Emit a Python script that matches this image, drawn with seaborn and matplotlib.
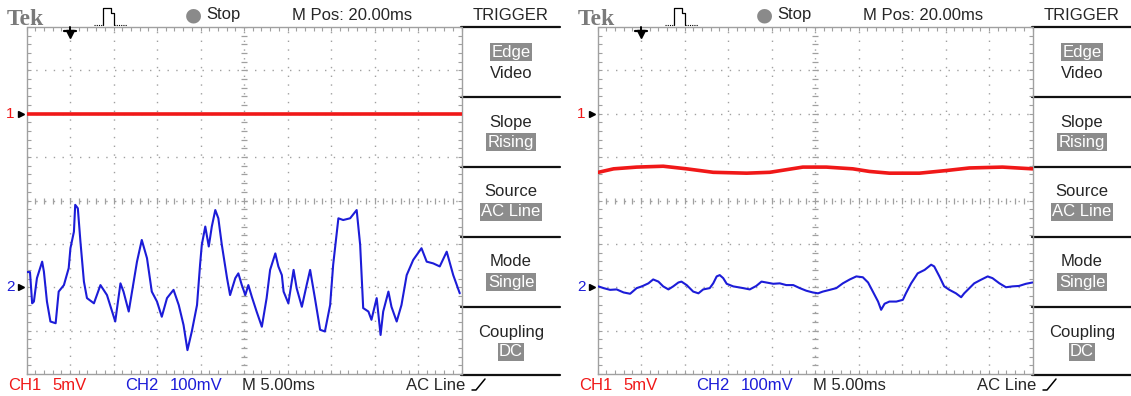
import numpy as np
import pandas as pd
import seaborn as sns
import matplotlib.pyplot as plt

# ---- trace data, in graticule divisions (time div, volts div from channel ground)
left_ch1_t = [0.0, 2.5, 5.0, 7.5, 10.0]
left_ch1_v = [0.0, 0.0, 0.0, 0.0, 0.0]

left_ch2_t = [0.015, 0.08, 0.13, 0.17, 0.24, 0.36, 0.40, 0.47, 0.55, 0.67, 0.74, 0.86, 0.97, 1.01,
              1.09, 1.12, 1.18, 1.24, 1.32, 1.39, 1.55, 1.70, 1.85, 2.04, 2.16, 2.23, 2.35, 2.54,
              2.65, 2.77, 2.88, 3.00, 3.11, 3.23, 3.38, 3.50, 3.61, 3.70, 3.80, 3.92, 3.99, 4.03,
              4.11, 4.19, 4.26, 4.34, 4.41, 4.49, 4.61, 4.68, 4.80, 4.87, 4.95, 5.03, 5.10, 5.18,
              5.29, 5.41, 5.52, 5.60, 5.72, 5.79, 5.87, 5.91, 6.02, 6.14, 6.21, 6.33, 6.44, 6.52,
              6.63, 6.75, 6.86, 6.98, 7.05, 7.17, 7.28, 7.44, 7.59, 7.67, 7.74, 7.86, 7.93, 8.05,
              8.14, 8.20, 8.32, 8.39, 8.51, 8.62, 8.74, 8.89, 9.08, 9.20, 9.35, 9.50, 9.66, 9.81, 9.96]
left_ch2_v = [0.35, 0.35, -0.37, -0.33, 0.21, 0.59, 0.36, -0.33, -0.79, -0.83, -0.10, 0.05, 0.44, 0.90,
              1.28, 1.90, 1.82, 1.05, 0.13, -0.25, -0.37, 0.05, -0.18, -0.79, 0.09, -0.10, -0.56, 0.59,
              1.09, 0.67, -0.10, -0.33, -0.68, -0.25, -0.06, -0.41, -0.87, -1.45, -1.02, -0.41, 0.52, 0.98,
              1.40, 0.94, 1.40, 1.78, 1.59, 0.98, 0.21, -0.18, 0.21, 0.32, 0.05, -0.18, 0.05, -0.22,
              -0.56, -0.91, -0.25, 0.40, 0.78, 0.48, 0.28, -0.10, -0.37, 0.40, -0.02, -0.45, 0.05, 0.40,
              -0.25, -0.98, -1.02, -0.41, 0.52, 1.59, 1.55, 1.59, 1.78, 0.98, -0.48, -0.56, -0.75, -0.25,
              -1.10, -0.56, -0.10, -0.45, -0.79, -0.41, 0.28, 0.63, 0.90, 0.59, 0.55, 0.48, 0.82, 0.28, -0.14]

right_ch1_t = [0.02, 0.37, 0.90, 1.51, 2.05, 2.66, 3.43, 3.96, 4.34, 4.72, 5.26, 5.87, 6.25, 6.71,
               7.40, 8.01, 8.55, 9.31, 10.0]
right_ch1_v = [-1.35, -1.27, -1.23, -1.21, -1.27, -1.35, -1.37, -1.35, -1.29, -1.23, -1.23, -1.27,
               -1.33, -1.37, -1.37, -1.31, -1.25, -1.23, -1.27]

right_ch2_t = [0.02, 0.14, 0.29, 0.44, 0.60, 0.75, 0.90, 1.02, 1.17, 1.28, 1.40, 1.51, 1.63, 1.74,
               1.86, 1.93, 2.05, 2.20, 2.32, 2.43, 2.58, 2.66, 2.74, 2.81, 2.89, 2.97, 3.12, 3.35,
               3.50, 3.65, 3.77, 3.88, 4.04, 4.19, 4.34, 4.50, 4.65, 4.80, 4.95, 5.07, 5.18, 5.34,
               5.49, 5.64, 5.80, 5.95, 6.10, 6.22, 6.33, 6.45, 6.52, 6.60, 6.71, 6.87, 7.02, 7.09,
               7.21, 7.36, 7.52, 7.67, 7.74, 7.86, 7.97, 8.09, 8.24, 8.36, 8.43, 8.55, 8.66, 8.81,
               8.97, 9.08, 9.24, 9.39, 9.54, 9.69, 9.85, 10.0]
right_ch2_v = [0.02, -0.02, -0.06, -0.05, -0.12, -0.15, -0.02, 0.02, 0.09, 0.18, 0.13, 0.02, -0.05, 0.02,
               0.11, 0.13, 0.05, -0.10, -0.14, -0.05, -0.02, 0.09, 0.25, 0.28, 0.21, 0.08, 0.02, -0.02,
               -0.05, 0.03, 0.13, 0.11, 0.08, 0.09, 0.05, 0.05, -0.02, -0.08, -0.12, -0.14, -0.10, -0.06,
               -0.02, 0.09, 0.18, 0.25, 0.23, 0.11, -0.10, -0.33, -0.52, -0.38, -0.33, -0.33, -0.29, -0.14,
               0.09, 0.32, 0.40, 0.52, 0.48, 0.25, 0.02, -0.06, -0.14, -0.23, -0.14, -0.02, 0.09, 0.17,
               0.25, 0.21, 0.09, 0.00, 0.02, 0.03, 0.08, 0.11]

# ---- labels
menu_titles = ["Edge", "Slope", "Source", "Mode", "Coupling"]
menu_values = ["Video", "Rising", "AC Line", "Single", "DC"]
ch1_label, ch1_scale = "CH1", "5mV"
ch2_label, ch2_scale = "CH2", "100mV"
timebase = "M 5.00ms"
mpos = "M Pos: 20.00ms"

RED = "#f01818"
BLUE = "#1c1cd8"
GRID = "#a0a0a0"
HILITE = "#8c8c8c"

sns.set_style("white")
plt.rcParams['font.family'] = ['Liberation Sans', 'DejaVu Sans']

W, H = 1131, 396
fig = plt.figure(figsize=(W / 100, H / 100), dpi=100)

# full figure overlay in pixel coords for the screen text
ov = fig.add_axes([0, 0, 1, 1])
ov.set_xlim(0, W)
ov.set_ylim(H, 0)
ov.axis('off')

FS = 12


def draw_graticule(ax):
    ax.set_xlim(0, 10)
    ax.set_ylim(-4, 4)
    ax.patch.set_alpha(0)
    for k in range(1, 10):
        ax.axvline(k, color=GRID, lw=1, ls=(0, (1, 5.3)), zorder=1)
    for k in range(-3, 4):
        ax.axhline(k, color=GRID, lw=1, ls=(0, (1, 5.3)), zorder=1)
    minor = np.arange(0, 10.01, 0.2)
    ax.plot(minor, np.zeros_like(minor), ls='none', marker='|', ms=4, color=GRID, mew=0.9, zorder=1)
    minor_y = np.arange(-4, 4.01, 0.2)
    ax.plot(np.full_like(minor_y, 5.0), minor_y, ls='none', marker='_', ms=4, color=GRID, mew=0.9, zorder=1)
    for s in ax.spines.values():
        s.set_visible(True)
        s.set_color(GRID)
        s.set_linestyle((0, (1, 1)))
        s.set_linewidth(1)
    ax.set_xticks(np.arange(0, 10.01, 1))
    ax.set_yticks(np.arange(-4, 4.01, 1))
    ax.set_xticks(np.arange(0, 10.01, 0.2), minor=True)
    ax.set_yticks(np.arange(-4, 4.01, 0.2), minor=True)
    ax.tick_params(which='both', direction='in', length=3, color=GRID, width=0.8,
                   top=True, right=True, bottom=True, left=True,
                   labelbottom=False, labelleft=False)
    # trigger position marker
    ax.plot([0.87, 1.13], [3.9, 3.9], color='black', lw=1.6, clip_on=False, zorder=5)
    ax.plot([1.0, 1.0], [3.9, 4.0], color='black', lw=1.4, clip_on=False, zorder=5)
    ax.plot([1.0], [3.84], marker='v', color='black', ms=6, clip_on=False, zorder=5)
    # channel ground markers
    ax.text(-0.27, 2, "1", color=RED, fontsize=11, ha='right', va='center', clip_on=False)
    ax.plot([-0.12], [2], marker='>', color='black', ms=4, clip_on=False)
    ax.text(-0.27, -2, "2", color=BLUE, fontsize=11, ha='right', va='center', clip_on=False)
    ax.plot([-0.12], [-2], marker='>', color='black', ms=4, clip_on=False)


panels = [
    (0, 26.5, left_ch1_t, left_ch1_v, left_ch2_t, left_ch2_v),
    (571, 597.5, right_ch1_t, right_ch1_v, right_ch2_t, right_ch2_v),
]

for ox, gx, c1t, c1v, c2t, c2v in panels:
    ax = fig.add_axes([gx / W, (H - 374) / H, 435 / W, 347 / H])
    draw_graticule(ax)
    df1 = pd.DataFrame({"t": c1t, "v": np.array(c1v) + 2})
    df2 = pd.DataFrame({"t": c2t, "v": np.array(c2v) - 2})
    sns.lineplot(data=df1, x="t", y="v", ax=ax, color=RED, lw=2.6, zorder=3)
    sns.lineplot(data=df2, x="t", y="v", ax=ax, color=BLUE, lw=1.5, zorder=3)
    ax.set_xlabel('')
    ax.set_ylabel('')

    # header
    ov.text(ox + 7, 25, "Tek", family='Liberation Serif', weight='bold', color='#7a7a7a',
            fontsize=17, ha='left', va='baseline')
    ov.plot([ox + 94, ox + 103], [25, 25], color='black', lw=0.8, ls=(0, (1, 1)))
    ov.plot([ox + 103, ox + 103, ox + 111, ox + 111, ox + 114, ox + 114],
            [25, 8, 8, 13, 13, 25], color='black', lw=0.9)
    ov.plot([ox + 114, ox + 127], [25, 25], color='black', lw=0.8, ls=(0, (1, 1)))
    ov.text(ox + 193, 15, "\u25cf", family='DejaVu Sans', color='#8a8a8a', fontsize=14,
            ha='center', va='center')
    ov.text(ox + 206, 15, "Stop", fontsize=FS, ha='left', va='center')
    ov.text(ox + 292, 15, mpos, fontsize=FS, ha='left', va='center')
    ov.text(ox + 511, 15, "TRIGGER", fontsize=FS, ha='center', va='center')

    # trigger menu
    for yy in [27, 97, 167, 237, 307, 375]:
        ov.plot([ox + 461, ox + 560], [yy, yy], color='#111111', lw=1.6)
    for i, (ttl, val) in enumerate(zip(menu_titles, menu_values)):
        y0 = 27 + 70 * i
        if i == 0:
            ov.text(ox + 511, y0 + 25, ttl, fontsize=FS, ha='center', va='center', color='white',
                    bbox=dict(boxstyle='square,pad=0.08', fc=HILITE, ec='none'))
            ov.text(ox + 511, y0 + 46, val, fontsize=FS, ha='center', va='center')
        else:
            ov.text(ox + 511, y0 + 25, ttl, fontsize=FS, ha='center', va='center')
            ov.text(ox + 511, y0 + 45, val, fontsize=FS, ha='center', va='center', color='white',
                    bbox=dict(boxstyle='square,pad=0.08', fc=HILITE, ec='none'))

    # footer
    ov.text(ox + 8, 385, ch1_label, color=RED, fontsize=FS, ha='left', va='center')
    ov.text(ox + 52, 385, ch1_scale, color=RED, fontsize=FS, ha='left', va='center')
    ov.text(ox + 125, 385, ch2_label, color=BLUE, fontsize=FS, ha='left', va='center')
    ov.text(ox + 170, 385, ch2_scale, color=BLUE, fontsize=FS, ha='left', va='center')
    ov.text(ox + 242, 385, timebase, fontsize=FS, ha='left', va='center')
    ov.text(ox + 406, 385, "AC Line", fontsize=FS, ha='left', va='center')
    ov.plot([ox + 472, ox + 476, ox + 485], [390, 390, 379], color='black', lw=1.1)

fig.savefig("out.png", dpi=100)
